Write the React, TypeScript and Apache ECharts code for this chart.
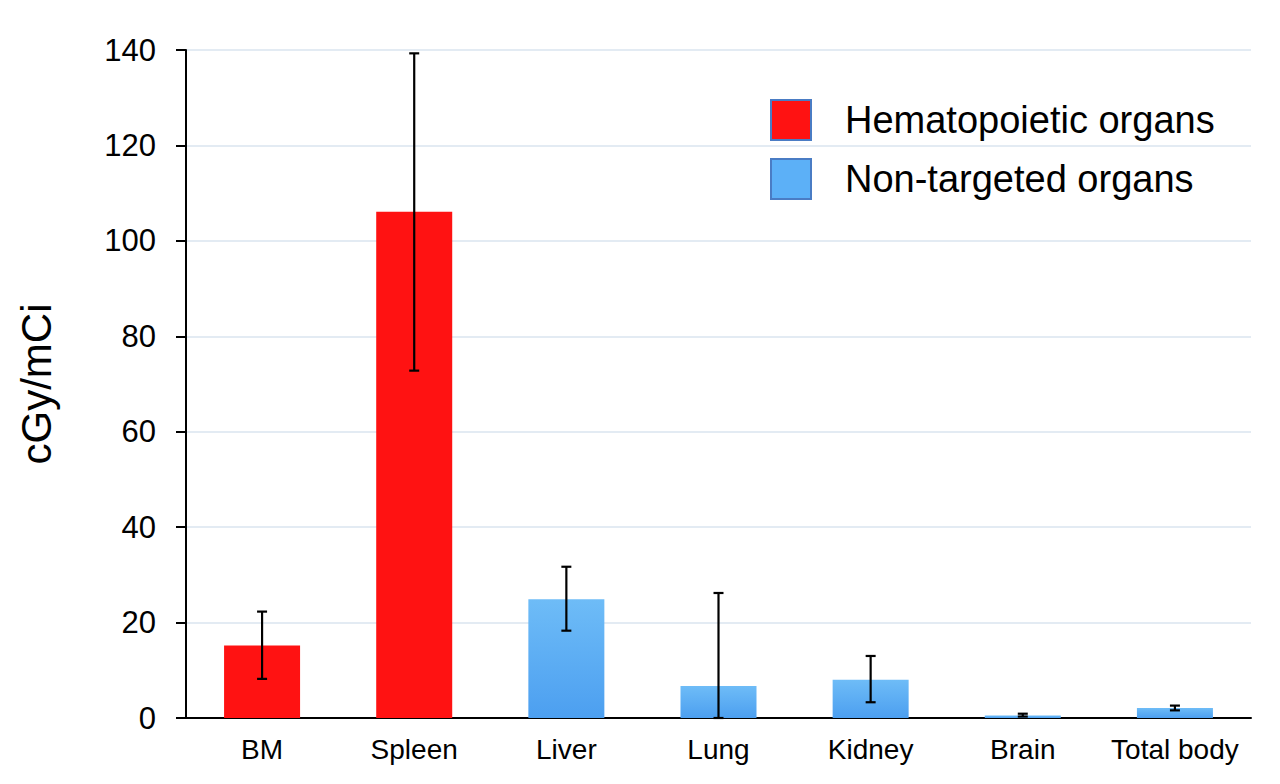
import React, { useEffect, useRef } from "react";
import * as echarts from "echarts";

const categories = ["BM", "Spleen", "Liver", "Lung", "Kidney", "Brain", "Total body"];
const hematopoietic = [15.2, 106.1, "-", "-", "-", "-", "-"];
const nonTargeted = ["-", "-", 24.9, 6.7, 8.0, 0.5, 2.1];
const errLow = [8.2, 72.8, 18.3, 0, 3.3, 0.3, 1.6];
const errHigh = [22.3, 139.3, 31.7, 26.2, 13.0, 0.9, 2.6];
const seriesNames = ["Hematopoietic organs", "Non-targeted organs"];

export default function App() {
  const ref = useRef<HTMLDivElement>(null);
  useEffect(() => {
    document.body.style.margin = "0";
    const chart = echarts.init(ref.current!, null, { renderer: "svg" });
    const font = "'Liberation Sans', Arial, sans-serif";
    const blueGrad = new echarts.graphic.LinearGradient(0, 0, 0, 1, [
      { offset: 0, color: "#6ebcf7" },
      { offset: 1, color: "#4c9ff0" },
    ]);
    chart.setOption({
      animation: false,
      textStyle: { fontFamily: font, color: "#000" },
      grid: { left: 186, right: 29, top: 50, bottom: 66 },
      legend: {
        orient: "vertical",
        left: 770,
        top: 99,
        padding: 0,
        itemWidth: 40,
        itemHeight: 40,
        itemGap: 17,
        icon: "rect",
        textStyle: { fontSize: 38, color: "#000", fontFamily: font, padding: [0, 0, 0, 29] },
        data: [
          { name: seriesNames[0], itemStyle: { color: "#ff1212", borderColor: "#4a7cc4", borderWidth: 2 } },
          { name: seriesNames[1], itemStyle: { color: "#5cb0f7", borderColor: "#4a7cc4", borderWidth: 2 } },
        ],
      },
      xAxis: {
        type: "category",
        data: categories,
        axisLine: { lineStyle: { color: "#000", width: 2 } },
        axisTick: { show: false },
        axisLabel: { fontSize: 28, color: "#000", margin: 17, fontFamily: font, interval: 0 },
      },
      yAxis: {
        type: "value",
        min: 0,
        max: 140,
        interval: 20,
        name: "cGy/mCi",
        nameLocation: "middle",
        nameGap: 129,
        nameTextStyle: { fontSize: 42, color: "#000", fontFamily: font },
        axisLine: { show: true, lineStyle: { color: "#000", width: 2 } },
        axisTick: { show: true, length: 10, lineStyle: { color: "#000", width: 2 } },
        axisLabel: { fontSize: 31, color: "#000", margin: 30, fontFamily: font },
        splitLine: { lineStyle: { color: "#dae5ef", width: 1.5 } },
      },
      series: [
        {
          name: seriesNames[0],
          type: "bar",
          data: hematopoietic,
          barWidth: 76,
          barGap: "-100%",
          itemStyle: { color: "#ff1212" },
        },
        {
          name: seriesNames[1],
          type: "bar",
          data: nonTargeted,
          barWidth: 76,
          barGap: "-100%",
          itemStyle: { color: blueGrad },
        },
        {
          name: "error",
          type: "custom",
          data: categories.map((_, i) => [i, errLow[i], errHigh[i]]),
          z: 10,
          renderItem: (params: any, api: any) => {
            const x = api.value(0);
            const lo = api.coord([x, api.value(1)]);
            const hi = api.coord([x, api.value(2)]);
            const hw = 5;
            const style = { stroke: "#000", lineWidth: 2.2 };
            return {
              type: "group",
              children: [
                { type: "line", shape: { x1: hi[0], y1: hi[1], x2: lo[0], y2: lo[1] }, style },
                { type: "line", shape: { x1: hi[0] - hw, y1: hi[1], x2: hi[0] + hw, y2: hi[1] }, style },
                { type: "line", shape: { x1: lo[0] - hw, y1: lo[1], x2: lo[0] + hw, y2: lo[1] }, style },
              ],
            };
          },
        },
      ],
    });
    return () => chart.dispose();
  }, []);
  return <div ref={ref} style={{ width: 1280, height: 784 }} />;
}
